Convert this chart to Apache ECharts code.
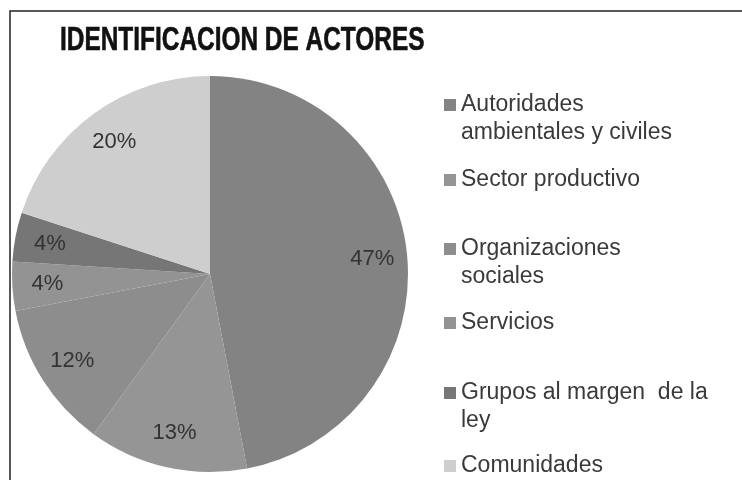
<!DOCTYPE html>
<html>
<head>
<meta charset="UTF-8">
<title>Identificacion de actores</title>
<script src="https://cdn.jsdelivr.net/npm/echarts@6/dist/echarts.min.js"></script>
<style>
  body { margin:0; background:#fff; }
  #chart { width:742px; height:480px; }
</style>
</head>
<body>
<div id="chart"></div>
<script>
// datos
var actores = ['Autoridades\nambientales y civiles', 'Sector productivo', 'Organizaciones\nsociales', 'Servicios', 'Grupos al margen  de la\nley', 'Comunidades'];
var porcentajes = [47, 13, 12, 4, 4, 20];
var grises = ['#838383', '#959595', '#8d8d8d', '#939393', '#767676', '#cecece'];
// posicion vertical del primer renglon de cada leyenda
var leyendaY = [105, 180, 249, 323, 393, 466];

var chart = echarts.init(document.getElementById('chart'), null, {renderer: 'canvas'});

var datos = [];
for (var i = 0; i < actores.length; i++) {
  datos.push({name: actores[i], value: porcentajes[i], itemStyle: {color: grises[i]}});
}

var leyendas = [];
for (var i = 0; i < actores.length; i++) {
  var dosLineas = actores[i].indexOf('\n') >= 0;
  leyendas.push({
    orient: 'vertical',
    left: 444,
    top: leyendaY[i] - (dosLineas ? 42 : 14),
    itemWidth: 12,
    itemHeight: 12,
    icon: 'rect',
    selectedMode: false,
    padding: 0,
    // una linea vacia arriba deja el cuadro a la altura del primer renglon
    formatter: dosLineas ? function (n) { return ' \n' + n; } : '{name}',
    data: [{name: actores[i], itemStyle: {color: grises[i]}}],
    textStyle: {
      fontFamily: 'Liberation Sans, Arial, sans-serif',
      fontSize: 23,
      lineHeight: 28,
      color: '#3a3a3a'
    }
  });
}

var option = {
  animation: false,
  graphic: [
    {
      type: 'rect',
      z: 0,
      shape: {x: 10, y: 11, width: 800, height: 600},
      style: {fill: 'none', stroke: '#222', lineWidth: 1.5}
    },
    {
      type: 'text',
      x: 60,
      y: 41,
      scaleX: 0.74,
      style: {
        text: 'IDENTIFICACION DE ACTORES',
        fontFamily: 'Liberation Sans, Arial, sans-serif',
        fontWeight: 'bold',
        fontSize: 33,
        fill: '#111',
        stroke: '#111',
        lineWidth: 0.6,
        align: 'left',
        verticalAlign: 'middle'
      }
    }
  ],
  legend: leyendas,
  series: [
    {
      type: 'pie',
      center: [210, 274],
      radius: [0, 198],
      startAngle: 90,
      clockwise: true,
      silent: true,
      label: {show: false},
      labelLine: {show: false},
      data: datos
    },
    {
      // capa transparente solo para colocar los porcentajes mas afuera
      type: 'pie',
      center: [210, 274],
      radius: [122, 198],
      startAngle: 90,
      clockwise: true,
      silent: true,
      z: 3,
      itemStyle: {color: 'rgba(0,0,0,0)'},
      label: {
        show: true,
        position: 'inside',
        formatter: '{c}%',
        fontFamily: 'Liberation Sans, Arial, sans-serif',
        fontSize: 22,
        color: '#333'
      },
      labelLine: {show: false},
      data: actores.map(function (n, i) {
        return {name: n, value: porcentajes[i], itemStyle: {color: 'rgba(0,0,0,0)'}};
      })
    }
  ]
};
chart.setOption(option);
</script>
</body>
</html>
